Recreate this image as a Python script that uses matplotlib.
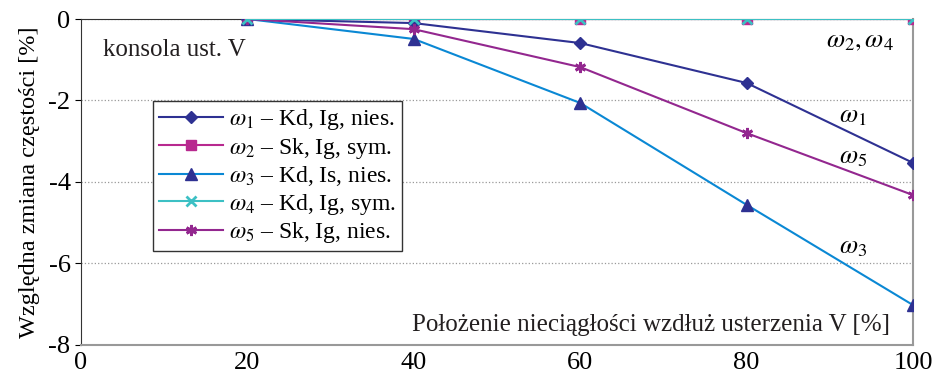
import numpy as np
import matplotlib
matplotlib.use("Agg")
import matplotlib.pyplot as plt

# data
pos = [20, 40, 60, 80, 100]
w1 = [0.0, -0.10, -0.59, -1.57, -3.53]
w2 = [0.0, 0.0, 0.0, 0.0, 0.0]
w3 = [0.0, -0.49, -2.06, -4.56, -7.02]
w4 = [0.0, 0.0, 0.0, 0.0, 0.0]
w5 = [0.0, -0.25, -1.18, -2.80, -4.32]

labels = [
    r"$\omega_1$ – Kd, Ig, nies.",
    r"$\omega_2$ – Sk, Ig, sym.",
    r"$\omega_3$ – Kd, Is, nies.",
    r"$\omega_4$ – Kd, Ig, sym.",
    r"$\omega_5$ – Sk, Ig, nies.",
]
xticks = [0, 20, 40, 60, 80, 100]
yticks = [0, -2, -4, -6, -8]

plt.rcParams["font.family"] = ["Liberation Serif", "DejaVu Serif"]
plt.rcParams["mathtext.fontset"] = "stix"
plt.rcParams["axes.unicode_minus"] = False

fig = plt.figure(figsize=(9.32, 3.77), dpi=100)
ax = fig.add_axes([0.0869, 0.0849, 0.8927, 0.8647])

ax.plot(pos, w1, color="#2E3192", marker="D", markersize=6, lw=1.5, label=labels[0], zorder=5)
ax.plot(pos, w2, color="#B8298F", marker="s", markersize=7, lw=1.5, label=labels[1], zorder=4)
ax.plot(pos, w3, color="#0A88D4", marker="^", markersize=8, markerfacecolor="#2E3192",
        markeredgecolor="#2E3192", lw=1.5, label=labels[2], zorder=5)
ax.plot(pos, w4, color="#3CC0C4", marker="x", markersize=7, mew=2, lw=1.5, label=labels[3], zorder=6)
ax.plot(pos, w5, color="#93278F", marker=(6, 2, 0), markersize=8, mew=2, lw=1.5, label=labels[4], zorder=5)

ax.set_xlim(0, 100)
ax.set_ylim(-8, 0)
ax.set_xticks(xticks)
ax.set_yticks(yticks)
ax.tick_params(axis="x", length=0, labelsize=19, pad=5)
ax.tick_params(axis="y", length=4, labelsize=19, direction="out")
ax.yaxis.grid(True, linestyle=":", color="#999999", lw=0.9)

for s in ["bottom", "right"]:
    ax.spines[s].set_color("#999999")
    ax.spines[s].set_linewidth(1.5)
ax.spines["left"].set_color("#333333")
ax.spines["top"].set_color("#333333")

ax.set_ylabel("Względna zmiana częstości [%]", fontsize=17.5, labelpad=6)
ax.text(0.685, 0.061, "Położenie nieciągłości wzdłuż usterzenia V [%]",
        transform=ax.transAxes, ha="center", va="center", fontsize=18, color="#231F20")
ax.text(0.026, 0.905, "konsola ust. V", transform=ax.transAxes, fontsize=18, color="#231F20",
        ha="left", va="center")

ax.text(93.6, -0.56, r"$\omega_2, \omega_4$", fontsize=19, ha="center", va="center")
ax.text(92.8, -2.4, r"$\omega_1$", fontsize=19, ha="center", va="center")
ax.text(92.8, -3.41, r"$\omega_5$", fontsize=19, ha="center", va="center")
ax.text(92.8, -5.62, r"$\omega_3$", fontsize=19, ha="center", va="center")

leg = ax.legend(loc="upper left", bbox_to_anchor=(0.087, 0.748), fontsize=17,
                frameon=True, fancybox=False, edgecolor="#333333", framealpha=1,
                handlelength=2.7, handletextpad=0.25, labelspacing=0.15, borderpad=0.25,
                borderaxespad=0)
leg.get_frame().set_linewidth(1.0)

fig.savefig("out.png", dpi=100)
